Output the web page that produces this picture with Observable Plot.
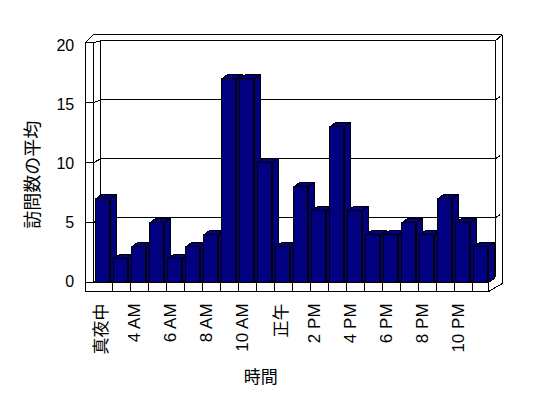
<!DOCTYPE html>
<html>
<head>
<meta charset="utf-8">
<script src="https://cdn.jsdelivr.net/npm/d3@7"></script>
<script src="https://cdn.jsdelivr.net/npm/@observablehq/plot@0.6"></script>
<style>
  html, body { margin: 0; padding: 0; background: #ffffff; }
  #chart svg { display: block; }
</style>
</head>
<body>
<div id="chart"></div>
<script>
// ---- data ----
const barValues = [7, 2, 3, 5, 2, 3, 4, 17, 17, 10, 3, 8, 6, 13, 6, 4, 4, 5, 4, 7, 5, 3];
const tickLabels = ["真夜中", "4 AM", "6 AM", "8 AM", "10 AM", "正午", "2 PM", "4 PM", "6 PM", "8 PM", "10 PM"];
const tickPositions = [0, 2, 4, 6, 8, 10, 12, 14, 16, 18, 20];
const yTicks = [0, 5, 10, 15, 20];
const yTitle = "訪問数の平均";
const xTitle = "時間";

// ---- 3D geometry (in scale units) ----
const BAR_W = 0.8, DU = 0.35, DV = 0.383;
const WALL_L = -0.59, WALL_R = -0.128, BACK_L = 0.261, BACK_R = 22.2, BACK_R2 = 22.58;
const FLOOR_R = 21.8, FLOOR_B = -0.75, TOP_OUT = 20.67;
const back = v => 0.5 + v * 0.9833;

const bars = barValues.map((v, i) => ({i, v}));

// bar top and side faces
const faces = [];
bars.forEach(({i, v}) => {
  const top = [[i, v], [i + BAR_W, v], [i + BAR_W + DU, v + DV], [i + DU, v + DV], [i, v]];
  const side = [[i + BAR_W, 0], [i + BAR_W, v], [i + BAR_W + DU, v + DV], [i + BAR_W + DU, DV], [i + BAR_W, 0]];
  top.forEach(([x, y]) => faces.push({id: "t" + i, x, y}));
  side.forEach(([x, y]) => faces.push({id: "s" + i, x, y}));
});

// frame segments
const seg = [];
const S = (x1, y1, x2, y2) => seg.push({x1, y1, x2, y2});
// left wall
S(WALL_L, FLOOR_B, WALL_L, 20);
S(WALL_R, 0, WALL_R, 20);
S(WALL_L, 20, WALL_R, 20);
S(WALL_L, 20, WALL_R, TOP_OUT);
S(WALL_R, 20, BACK_L, back(20));
S(WALL_R, TOP_OUT, BACK_R2, TOP_OUT);
// back wall
S(BACK_L, back(20), BACK_L, back(0));
S(BACK_R, back(20), BACK_R2, TOP_OUT);
S(BACK_R, back(20), BACK_R, back(0));
S(BACK_R2, TOP_OUT, BACK_R2, -0.06);
S(BACK_R, back(0), FLOOR_R, 0);
S(BACK_R2, -0.06, FLOOR_R, FLOOR_B);
// floor
S(WALL_R, 0, FLOOR_R, 0);
S(WALL_L, FLOOR_B, FLOOR_R, FLOOR_B);
S(FLOOR_R, FLOOR_B, FLOOR_R, 0);
S(BACK_L, back(0), BACK_R, back(0));
for (let k = 0; k < barValues.length - 1; k++) S(k + 0.9, FLOOR_B, k + 0.9, 0);
// ticks and gridlines
yTicks.forEach(v => {
  S(WALL_L, v, WALL_R, v);
  S(WALL_R, v, BACK_L, back(v));
  if (v > 0) {
    S(BACK_L, back(v), BACK_R, back(v));
    if (v < 20) S(BACK_R, back(v), BACK_R + 0.25, back(v) + 0.25);
  }
});

const ticks = tickPositions.map((p, k) => ({p, label: tickLabels[k], cjk: /[^\x00-\x7F]/.test(tickLabels[k])}));
const FONT = "'Liberation Sans', Arial, 'Noto Sans CJK JP', sans-serif";

const chart = Plot.plot({
  width: 548,
  height: 398,
  marginLeft: 95.3,
  marginRight: 56.7,
  marginTop: 42.3,
  marginBottom: 115.7,
  style: {fontFamily: FONT, background: "#ffffff", color: "#000000"},
  x: {type: "linear", domain: [0, 22], axis: null},
  y: {type: "linear", domain: [0, 20], axis: null},
  marks: [
    Plot.link(seg, {x1: "x1", y1: "y1", x2: "x2", y2: "y2", stroke: "#000000", strokeWidth: 1, shapeRendering: "crispEdges"}),
    Plot.line(faces, {x: "x", y: "y", z: "id", fill: "#000080", stroke: "#000000", strokeWidth: 1, curve: "linear", shapeRendering: "crispEdges"}),
    Plot.rect(bars, {x1: d => d.i, x2: d => d.i + BAR_W, y1: 0, y2: "v", fill: "#000080", stroke: "#000000", strokeWidth: 1, shapeRendering: "crispEdges"}),
    // y tick labels
    Plot.text(yTicks, {x: -1.2, y: d => back(d), text: d => String(d), textAnchor: "end", dy: 5, fontSize: 16, fill: "#000000"}),
    // x tick labels
    Plot.text(ticks.filter(d => !d.cjk), {x: d => d.p + BAR_W / 2, y: -1.72, text: "label", rotate: -90, textAnchor: "end", dx: -4.5, fontSize: 17, fill: "#000000"}),
    Plot.text(ticks.filter(d => d.cjk), {x: d => d.p + BAR_W / 2, y: -1.72, text: "label", rotate: -90, textAnchor: "end", dx: -1.5, fontSize: 17, fill: "#000000"}),
    // axis titles
    Plot.text([yTitle], {frameAnchor: "left", text: d => d, rotate: -90, textAnchor: "middle", lineAnchor: "middle", dx: -63, dy: 12, fontSize: 18, fill: "#000000"}),
    Plot.text([xTitle], {frameAnchor: "bottom", text: d => d, textAnchor: "middle", lineAnchor: "middle", dx: -33, dy: 95, fontSize: 17, fill: "#000000"})
  ]
});
document.getElementById("chart").appendChild(chart);
</script>
</body>
</html>
